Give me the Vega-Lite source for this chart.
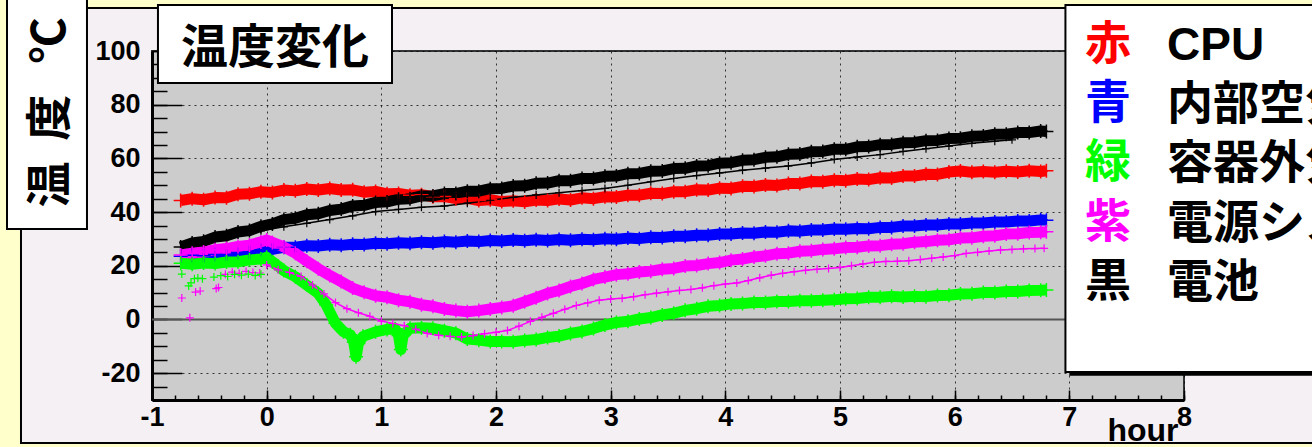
{
 "$schema": "https://vega.github.io/schema/vega-lite/v6.json",
 "width": 1032, "height": 349,
 "autosize": {"type": "none"},
 "padding": {"left": 152, "top": 51, "right": 128, "bottom": 47},
 "background": "#f4f0f4",
 "config": {"view": {"fill": "#cccccc", "stroke": "#333333", "strokeWidth": 2}, "font": "Liberation Sans"},
 "datasets": {
  "main": [
   {"t":-0.75,"v":44.3,"s":"CPU"},{"t":-0.65,"v":45.0,"s":"CPU"},{"t":-0.55,"v":44.6,"s":"CPU"},{"t":-0.45,"v":45.4,"s":"CPU"},{"t":-0.35,"v":45.3,"s":"CPU"},{"t":-0.25,"v":46.6,"s":"CPU"},{"t":-0.15,"v":46.8,"s":"CPU"},{"t":-0.05,"v":47.6,"s":"CPU"},{"t":0.05,"v":47.3,"s":"CPU"},{"t":0.15,"v":48.2,"s":"CPU"},{"t":0.25,"v":47.9,"s":"CPU"},{"t":0.35,"v":48.6,"s":"CPU"},{"t":0.45,"v":48.2,"s":"CPU"},{"t":0.55,"v":48.8,"s":"CPU"},{"t":0.65,"v":48.2,"s":"CPU"},{"t":0.75,"v":48.3,"s":"CPU"},{"t":0.85,"v":47.4,"s":"CPU"},{"t":0.95,"v":47.7,"s":"CPU"},{"t":1.05,"v":46.8,"s":"CPU"},{"t":1.15,"v":46.9,"s":"CPU"},{"t":1.25,"v":46.3,"s":"CPU"},{"t":1.35,"v":46.5,"s":"CPU"},{"t":1.45,"v":45.7,"s":"CPU"},{"t":1.55,"v":45.8,"s":"CPU"},{"t":1.65,"v":45.0,"s":"CPU"},{"t":1.75,"v":45.1,"s":"CPU"},{"t":1.85,"v":44.3,"s":"CPU"},{"t":1.95,"v":44.6,"s":"CPU"},{"t":2.05,"v":43.9,"s":"CPU"},{"t":2.15,"v":44.2,"s":"CPU"},{"t":2.25,"v":43.8,"s":"CPU"},{"t":2.35,"v":44.5,"s":"CPU"},{"t":2.45,"v":44.3,"s":"CPU"},{"t":2.55,"v":44.9,"s":"CPU"},{"t":2.65,"v":44.5,"s":"CPU"},{"t":2.75,"v":45.3,"s":"CPU"},{"t":2.85,"v":45.0,"s":"CPU"},{"t":2.95,"v":45.7,"s":"CPU"},{"t":3.05,"v":45.6,"s":"CPU"},{"t":3.15,"v":46.3,"s":"CPU"},{"t":3.25,"v":46.3,"s":"CPU"},{"t":3.35,"v":47.0,"s":"CPU"},{"t":3.45,"v":46.9,"s":"CPU"},{"t":3.55,"v":47.6,"s":"CPU"},{"t":3.65,"v":47.6,"s":"CPU"},{"t":3.75,"v":48.3,"s":"CPU"},{"t":3.85,"v":48.2,"s":"CPU"},{"t":3.95,"v":48.9,"s":"CPU"},{"t":4.05,"v":48.8,"s":"CPU"},{"t":4.15,"v":49.6,"s":"CPU"},{"t":4.25,"v":49.5,"s":"CPU"},{"t":4.35,"v":50.1,"s":"CPU"},{"t":4.45,"v":49.9,"s":"CPU"},{"t":4.55,"v":50.6,"s":"CPU"},{"t":4.65,"v":50.6,"s":"CPU"},{"t":4.75,"v":51.4,"s":"CPU"},{"t":4.85,"v":51.3,"s":"CPU"},{"t":4.95,"v":51.9,"s":"CPU"},{"t":5.05,"v":51.7,"s":"CPU"},{"t":5.15,"v":52.3,"s":"CPU"},{"t":5.25,"v":52.1,"s":"CPU"},{"t":5.35,"v":52.8,"s":"CPU"},{"t":5.45,"v":52.7,"s":"CPU"},{"t":5.55,"v":53.4,"s":"CPU"},{"t":5.65,"v":53.4,"s":"CPU"},{"t":5.75,"v":54.1,"s":"CPU"},{"t":5.85,"v":54.0,"s":"CPU"},{"t":5.95,"v":54.9,"s":"CPU"},{"t":6.05,"v":55.3,"s":"CPU"},{"t":6.15,"v":54.8,"s":"CPU"},{"t":6.25,"v":55.1,"s":"CPU"},{"t":6.35,"v":54.8,"s":"CPU"},{"t":6.45,"v":55.2,"s":"CPU"},{"t":6.55,"v":54.9,"s":"CPU"},{"t":6.65,"v":55.4,"s":"CPU"},{"t":6.75,"v":55.1,"s":"CPU"},{"t":6.8,"v":55.4,"s":"CPU"},

   {"t":-0.75,"v":27.0,"s":"電池"},{"t":-0.65,"v":28.5,"s":"電池"},{"t":-0.55,"v":29.1,"s":"電池"},{"t":-0.45,"v":30.7,"s":"電池"},{"t":-0.35,"v":31.2,"s":"電池"},{"t":-0.25,"v":32.6,"s":"電池"},{"t":-0.15,"v":33.1,"s":"電池"},{"t":-0.05,"v":34.7,"s":"電池"},{"t":0.05,"v":35.6,"s":"電池"},{"t":0.15,"v":37.2,"s":"電池"},{"t":0.25,"v":37.7,"s":"電池"},{"t":0.35,"v":39.0,"s":"電池"},{"t":0.45,"v":39.4,"s":"電池"},{"t":0.55,"v":40.6,"s":"電池"},{"t":0.65,"v":41.1,"s":"電池"},{"t":0.75,"v":42.3,"s":"電池"},{"t":0.85,"v":42.5,"s":"電池"},{"t":0.95,"v":43.6,"s":"電池"},{"t":1.05,"v":43.8,"s":"電池"},{"t":1.15,"v":44.8,"s":"電池"},{"t":1.25,"v":45.0,"s":"電池"},{"t":1.35,"v":46.0,"s":"電池"},{"t":1.45,"v":46.0,"s":"電池"},{"t":1.55,"v":46.9,"s":"電池"},{"t":1.65,"v":46.9,"s":"電池"},{"t":1.75,"v":47.8,"s":"電池"},{"t":1.85,"v":47.8,"s":"電池"},{"t":1.95,"v":48.7,"s":"電池"},{"t":2.05,"v":48.8,"s":"電池"},{"t":2.15,"v":49.7,"s":"電池"},{"t":2.25,"v":49.8,"s":"電池"},{"t":2.35,"v":50.7,"s":"電池"},{"t":2.45,"v":50.8,"s":"電池"},{"t":2.55,"v":51.7,"s":"電池"},{"t":2.65,"v":51.7,"s":"電池"},{"t":2.75,"v":52.5,"s":"電池"},{"t":2.85,"v":52.5,"s":"電池"},{"t":2.95,"v":53.3,"s":"電池"},{"t":3.05,"v":53.4,"s":"電池"},{"t":3.15,"v":54.3,"s":"電池"},{"t":3.25,"v":54.4,"s":"電池"},{"t":3.35,"v":55.2,"s":"電池"},{"t":3.45,"v":55.3,"s":"電池"},{"t":3.55,"v":56.2,"s":"電池"},{"t":3.65,"v":56.3,"s":"電池"},{"t":3.75,"v":57.2,"s":"電池"},{"t":3.85,"v":57.3,"s":"電池"},{"t":3.95,"v":58.2,"s":"電池"},{"t":4.05,"v":58.4,"s":"電池"},{"t":4.15,"v":59.3,"s":"電池"},{"t":4.25,"v":59.5,"s":"電池"},{"t":4.35,"v":60.4,"s":"電池"},{"t":4.45,"v":60.6,"s":"電池"},{"t":4.55,"v":61.5,"s":"電池"},{"t":4.65,"v":61.6,"s":"電池"},{"t":4.75,"v":62.5,"s":"電池"},{"t":4.85,"v":62.6,"s":"電池"},{"t":4.95,"v":63.4,"s":"電池"},{"t":5.05,"v":63.4,"s":"電池"},{"t":5.15,"v":64.3,"s":"電池"},{"t":5.25,"v":64.4,"s":"電池"},{"t":5.35,"v":65.1,"s":"電池"},{"t":5.45,"v":65.2,"s":"電池"},{"t":5.55,"v":65.8,"s":"電池"},{"t":5.65,"v":65.9,"s":"電池"},{"t":5.75,"v":66.6,"s":"電池"},{"t":5.85,"v":66.7,"s":"電池"},{"t":5.95,"v":67.4,"s":"電池"},{"t":6.05,"v":67.5,"s":"電池"},{"t":6.15,"v":68.2,"s":"電池"},{"t":6.25,"v":68.3,"s":"電池"},{"t":6.35,"v":69.0,"s":"電池"},{"t":6.45,"v":69.0,"s":"電池"},{"t":6.55,"v":69.6,"s":"電池"},{"t":6.65,"v":69.6,"s":"電池"},{"t":6.75,"v":70.2,"s":"電池"},{"t":6.8,"v":70.0,"s":"電池"},

   {"t":-0.75,"v":23.5,"s":"内部空気"},{"t":-0.65,"v":23.9,"s":"内部空気"},{"t":-0.55,"v":23.7,"s":"内部空気"},{"t":-0.45,"v":24.2,"s":"内部空気"},{"t":-0.35,"v":24.2,"s":"内部空気"},{"t":-0.25,"v":24.9,"s":"内部空気"},{"t":-0.15,"v":25.1,"s":"内部空気"},{"t":-0.05,"v":25.8,"s":"内部空気"},{"t":0.05,"v":26.1,"s":"内部空気"},{"t":0.15,"v":26.9,"s":"内部空気"},{"t":0.25,"v":26.9,"s":"内部空気"},{"t":0.35,"v":27.5,"s":"内部空気"},{"t":0.45,"v":27.4,"s":"内部空気"},{"t":0.55,"v":27.8,"s":"内部空気"},{"t":0.65,"v":27.6,"s":"内部空気"},{"t":0.75,"v":28.0,"s":"内部空気"},{"t":0.85,"v":27.9,"s":"内部空気"},{"t":0.95,"v":28.4,"s":"内部空気"},{"t":1.05,"v":28.2,"s":"内部空気"},{"t":1.15,"v":28.6,"s":"内部空気"},{"t":1.25,"v":28.4,"s":"内部空気"},{"t":1.35,"v":28.8,"s":"内部空気"},{"t":1.45,"v":28.6,"s":"内部空気"},{"t":1.55,"v":29.0,"s":"内部空気"},{"t":1.65,"v":28.8,"s":"内部空気"},{"t":1.75,"v":29.2,"s":"内部空気"},{"t":1.85,"v":29.0,"s":"内部空気"},{"t":1.95,"v":29.4,"s":"内部空気"},{"t":2.05,"v":29.2,"s":"内部空気"},{"t":2.15,"v":29.6,"s":"内部空気"},{"t":2.25,"v":29.3,"s":"内部空気"},{"t":2.35,"v":29.7,"s":"内部空気"},{"t":2.45,"v":29.4,"s":"内部空気"},{"t":2.55,"v":29.8,"s":"内部空気"},{"t":2.65,"v":29.5,"s":"内部空気"},{"t":2.75,"v":29.9,"s":"内部空気"},{"t":2.85,"v":29.7,"s":"内部空気"},{"t":2.95,"v":30.1,"s":"内部空気"},{"t":3.05,"v":29.9,"s":"内部空気"},{"t":3.15,"v":30.3,"s":"内部空気"},{"t":3.25,"v":30.1,"s":"内部空気"},{"t":3.35,"v":30.6,"s":"内部空気"},{"t":3.45,"v":30.5,"s":"内部空気"},{"t":3.55,"v":31.0,"s":"内部空気"},{"t":3.65,"v":31.0,"s":"内部空気"},{"t":3.75,"v":31.4,"s":"内部空気"},{"t":3.85,"v":31.4,"s":"内部空気"},{"t":3.95,"v":31.8,"s":"内部空気"},{"t":4.05,"v":31.8,"s":"内部空気"},{"t":4.15,"v":32.2,"s":"内部空気"},{"t":4.25,"v":32.1,"s":"内部空気"},{"t":4.35,"v":32.6,"s":"内部空気"},{"t":4.45,"v":32.5,"s":"内部空気"},{"t":4.55,"v":33.0,"s":"内部空気"},{"t":4.65,"v":32.9,"s":"内部空気"},{"t":4.75,"v":33.3,"s":"内部空気"},{"t":4.85,"v":33.3,"s":"内部空気"},{"t":4.95,"v":33.7,"s":"内部空気"},{"t":5.05,"v":33.6,"s":"内部空気"},{"t":5.15,"v":33.9,"s":"内部空気"},{"t":5.25,"v":33.8,"s":"内部空気"},{"t":5.35,"v":34.3,"s":"内部空気"},{"t":5.45,"v":34.3,"s":"内部空気"},{"t":5.55,"v":34.8,"s":"内部空気"},{"t":5.65,"v":34.8,"s":"内部空気"},{"t":5.75,"v":35.2,"s":"内部空気"},{"t":5.85,"v":35.2,"s":"内部空気"},{"t":5.95,"v":35.6,"s":"内部空気"},{"t":6.05,"v":35.6,"s":"内部空気"},{"t":6.15,"v":35.9,"s":"内部空気"},{"t":6.25,"v":35.9,"s":"内部空気"},{"t":6.35,"v":36.3,"s":"内部空気"},{"t":6.45,"v":36.3,"s":"内部空気"},{"t":6.55,"v":36.7,"s":"内部空気"},{"t":6.65,"v":36.7,"s":"内部空気"},{"t":6.75,"v":37.1,"s":"内部空気"},{"t":6.8,"v":37.0,"s":"内部空気"},

   {"t":-0.75,"v":24.0,"s":"電源システム"},{"t":-0.65,"v":24.7,"s":"電源システム"},{"t":-0.55,"v":25.1,"s":"電源システム"},{"t":-0.45,"v":26.0,"s":"電源システム"},{"t":-0.35,"v":26.4,"s":"電源システム"},{"t":-0.25,"v":27.2,"s":"電源システム"},{"t":-0.15,"v":27.7,"s":"電源システム"},{"t":-0.05,"v":28.9,"s":"電源システム"},{"t":0,"v":29.6,"s":"電源システム"},{"t":0.05,"v":28.7,"s":"電源システム"},{"t":0.15,"v":27.0,"s":"電源システム"},{"t":0.25,"v":24.7,"s":"電源システム"},{"t":0.35,"v":21.7,"s":"電源システム"},{"t":0.45,"v":18.9,"s":"電源システム"},{"t":0.55,"v":16.4,"s":"電源システム"},{"t":0.65,"v":14.1,"s":"電源システム"},{"t":0.75,"v":11.7,"s":"電源システム"},{"t":0.85,"v":10.1,"s":"電源システム"},{"t":0.95,"v":8.8,"s":"電源システム"},{"t":1.05,"v":8.3,"s":"電源システム"},{"t":1.15,"v":7.2,"s":"電源システム"},{"t":1.25,"v":6.6,"s":"電源システム"},{"t":1.35,"v":5.5,"s":"電源システム"},{"t":1.45,"v":4.9,"s":"電源システム"},{"t":1.55,"v":3.9,"s":"電源システム"},{"t":1.65,"v":3.3,"s":"電源システム"},{"t":1.75,"v":2.9,"s":"電源システム"},{"t":1.85,"v":3.3,"s":"電源システム"},{"t":1.95,"v":3.9,"s":"電源システム"},{"t":2.05,"v":4.5,"s":"電源システム"},{"t":2.15,"v":5.1,"s":"電源システム"},{"t":2.25,"v":6.6,"s":"電源システム"},{"t":2.35,"v":8.1,"s":"電源システム"},{"t":2.45,"v":9.7,"s":"電源システム"},{"t":2.55,"v":10.8,"s":"電源システム"},{"t":2.65,"v":12.3,"s":"電源システム"},{"t":2.75,"v":13.4,"s":"電源システム"},{"t":2.85,"v":14.9,"s":"電源システム"},{"t":2.95,"v":15.8,"s":"電源システム"},{"t":3.05,"v":16.7,"s":"電源システム"},{"t":3.15,"v":17.0,"s":"電源システム"},{"t":3.25,"v":17.7,"s":"電源システム"},{"t":3.35,"v":18.0,"s":"電源システム"},{"t":3.45,"v":18.7,"s":"電源システム"},{"t":3.55,"v":19.0,"s":"電源システム"},{"t":3.65,"v":19.9,"s":"電源システム"},{"t":3.75,"v":20.1,"s":"電源システム"},{"t":3.85,"v":20.8,"s":"電源システム"},{"t":3.95,"v":21.2,"s":"電源システム"},{"t":4.05,"v":22.1,"s":"電源システム"},{"t":4.15,"v":22.5,"s":"電源システム"},{"t":4.25,"v":23.3,"s":"電源システム"},{"t":4.35,"v":23.7,"s":"電源システム"},{"t":4.45,"v":24.5,"s":"電源システム"},{"t":4.55,"v":24.7,"s":"電源システム"},{"t":4.65,"v":25.4,"s":"電源システム"},{"t":4.75,"v":25.6,"s":"電源システム"},{"t":4.85,"v":26.1,"s":"電源システム"},{"t":4.95,"v":26.3,"s":"電源システム"},{"t":5.05,"v":26.8,"s":"電源システム"},{"t":5.15,"v":26.9,"s":"電源システム"},{"t":5.25,"v":27.4,"s":"電源システム"},{"t":5.35,"v":27.5,"s":"電源システム"},{"t":5.45,"v":28.0,"s":"電源システム"},{"t":5.55,"v":28.2,"s":"電源システム"},{"t":5.65,"v":28.8,"s":"電源システム"},{"t":5.75,"v":29.0,"s":"電源システム"},{"t":5.85,"v":29.5,"s":"電源システム"},{"t":5.95,"v":29.7,"s":"電源システム"},{"t":6.05,"v":30.3,"s":"電源システム"},{"t":6.15,"v":30.4,"s":"電源システム"},{"t":6.25,"v":31.0,"s":"電源システム"},{"t":6.35,"v":31.2,"s":"電源システム"},{"t":6.45,"v":31.8,"s":"電源システム"},{"t":6.55,"v":31.9,"s":"電源システム"},{"t":6.65,"v":32.4,"s":"電源システム"},{"t":6.75,"v":32.5,"s":"電源システム"},{"t":6.8,"v":32.7,"s":"電源システム"},

   {"t":-0.75,"v":20.9,"s":"容器外気"},{"t":-0.65,"v":20.6,"s":"容器外気"},{"t":-0.55,"v":21.0,"s":"容器外気"},{"t":-0.45,"v":20.8,"s":"容器外気"},{"t":-0.35,"v":21.4,"s":"容器外気"},{"t":-0.25,"v":21.5,"s":"容器外気"},{"t":-0.15,"v":22.2,"s":"容器外気"},{"t":-0.05,"v":22.5,"s":"容器外気"},{"t":0,"v":23.2,"s":"容器外気"},{"t":0.05,"v":21.5,"s":"容器外気"},{"t":0.1,"v":19.9,"s":"容器外気"},{"t":0.15,"v":18.2,"s":"容器外気"},{"t":0.25,"v":15.9,"s":"容器外気"},{"t":0.35,"v":12.8,"s":"容器外気"},{"t":0.45,"v":9.7,"s":"容器外気"},{"t":0.52,"v":5.4,"s":"容器外気"},{"t":0.6,"v":-1.4,"s":"容器外気"},{"t":0.67,"v":-4.6,"s":"容器外気"},{"t":0.73,"v":-5.7,"s":"容器外気"},{"t":0.76,"v":-8.5,"s":"容器外気"},{"t":0.78,"v":-13.9,"s":"容器外気"},{"t":0.8,"v":-9.0,"s":"容器外気"},{"t":0.84,"v":-6.3,"s":"容器外気"},{"t":0.95,"v":-4.6,"s":"容器外気"},{"t":1.05,"v":-3.7,"s":"容器外気"},{"t":1.12,"v":-3.5,"s":"容器外気"},{"t":1.15,"v":-6.0,"s":"容器外気"},{"t":1.17,"v":-11.2,"s":"容器外気"},{"t":1.19,"v":-6.0,"s":"容器外気"},{"t":1.25,"v":-3.3,"s":"容器外気"},{"t":1.35,"v":-3.1,"s":"容器外気"},{"t":1.45,"v":-3.3,"s":"容器外気"},{"t":1.55,"v":-4.2,"s":"容器外気"},{"t":1.65,"v":-5.1,"s":"容器外気"},{"t":1.75,"v":-7.3,"s":"容器外気"},{"t":1.85,"v":-7.7,"s":"容器外気"},{"t":1.95,"v":-8.2,"s":"容器外気"},{"t":2.05,"v":-8.2,"s":"容器外気"},{"t":2.15,"v":-8.3,"s":"容器外気"},{"t":2.25,"v":-7.8,"s":"容器外気"},{"t":2.35,"v":-7.5,"s":"容器外気"},{"t":2.45,"v":-6.7,"s":"容器外気"},{"t":2.55,"v":-6.2,"s":"容器外気"},{"t":2.65,"v":-5.2,"s":"容器外気"},{"t":2.75,"v":-4.5,"s":"容器外気"},{"t":2.85,"v":-3.4,"s":"容器外気"},{"t":2.95,"v":-2.1,"s":"容器外気"},{"t":3.05,"v":-1.1,"s":"容器外気"},{"t":3.15,"v":-0.7,"s":"容器外気"},{"t":3.25,"v":0.2,"s":"容器外気"},{"t":3.35,"v":0.7,"s":"容器外気"},{"t":3.45,"v":1.7,"s":"容器外気"},{"t":3.55,"v":2.3,"s":"容器外気"},{"t":3.65,"v":3.4,"s":"容器外気"},{"t":3.75,"v":4.0,"s":"容器外気"},{"t":3.85,"v":4.9,"s":"容器外気"},{"t":3.95,"v":5.2,"s":"容器外気"},{"t":4.05,"v":5.8,"s":"容器外気"},{"t":4.15,"v":5.9,"s":"容器外気"},{"t":4.25,"v":6.3,"s":"容器外気"},{"t":4.35,"v":6.3,"s":"容器外気"},{"t":4.45,"v":6.7,"s":"容器外気"},{"t":4.55,"v":6.7,"s":"容器外気"},{"t":4.65,"v":7.0,"s":"容器外気"},{"t":4.75,"v":7.0,"s":"容器外気"},{"t":4.85,"v":7.2,"s":"容器外気"},{"t":4.95,"v":7.3,"s":"容器外気"},{"t":5.05,"v":7.7,"s":"容器外気"},{"t":5.15,"v":7.8,"s":"容器外気"},{"t":5.25,"v":8.3,"s":"容器外気"},{"t":5.35,"v":8.3,"s":"容器外気"},{"t":5.45,"v":8.6,"s":"容器外気"},{"t":5.55,"v":8.4,"s":"容器外気"},{"t":5.65,"v":8.6,"s":"容器外気"},{"t":5.75,"v":8.5,"s":"容器外気"},{"t":5.85,"v":8.9,"s":"容器外気"},{"t":5.95,"v":9.0,"s":"容器外気"},{"t":6.05,"v":9.5,"s":"容器外気"},{"t":6.15,"v":9.6,"s":"容器外気"},{"t":6.25,"v":10.0,"s":"容器外気"},{"t":6.35,"v":10.0,"s":"容器外気"},{"t":6.45,"v":10.4,"s":"容器外気"},{"t":6.55,"v":10.4,"s":"容器外気"},{"t":6.65,"v":10.8,"s":"容器外気"},{"t":6.75,"v":10.9,"s":"容器外気"},{"t":6.8,"v":11.0,"s":"容器外気"}
  ],
  "sub": [
   {"t":-0.05,"v":33.0,"s":"電池"},{"t":0.15,"v":34.5,"s":"電池"},{"t":0.35,"v":35.8,"s":"電池"},{"t":0.55,"v":37.2,"s":"電池"},{"t":0.75,"v":38.6,"s":"電池"},{"t":0.95,"v":40.2,"s":"電池"},{"t":1.15,"v":41.0,"s":"電池"},{"t":1.35,"v":41.8,"s":"電池"},{"t":1.55,"v":42.3,"s":"電池"},{"t":1.75,"v":43.3,"s":"電池"},{"t":1.95,"v":44.4,"s":"電池"},{"t":2.15,"v":45.5,"s":"電池"},{"t":2.35,"v":46.4,"s":"電池"},{"t":2.55,"v":47.2,"s":"電池"},{"t":2.75,"v":48.0,"s":"電池"},{"t":2.95,"v":48.8,"s":"電池"},{"t":3.15,"v":50.0,"s":"電池"},{"t":3.35,"v":51.3,"s":"電池"},{"t":3.55,"v":52.5,"s":"電池"},{"t":3.75,"v":53.6,"s":"電池"},{"t":3.95,"v":54.6,"s":"電池"},{"t":4.15,"v":55.6,"s":"電池"},{"t":4.35,"v":56.4,"s":"電池"},{"t":4.55,"v":57.2,"s":"電池"},{"t":4.75,"v":58.3,"s":"電池"},{"t":4.95,"v":59.6,"s":"電池"},{"t":5.15,"v":60.5,"s":"電池"},{"t":5.35,"v":61.4,"s":"電池"},{"t":5.55,"v":62.6,"s":"電池"},{"t":5.75,"v":63.6,"s":"電池"},{"t":5.95,"v":64.6,"s":"電池"},{"t":6.15,"v":65.6,"s":"電池"},{"t":6.35,"v":66.4,"s":"電池"},{"t":6.5,"v":66.9,"s":"電池"},
   {"t":0.0,"v":20.3,"s":"電源システム"},{"t":0.1,"v":18.5,"s":"電源システム"},{"t":0.2,"v":17.5,"s":"電源システム"},{"t":0.3,"v":16.0,"s":"電源システム"},{"t":0.4,"v":12.8,"s":"電源システム"},{"t":0.5,"v":9.5,"s":"電源システム"},{"t":0.6,"v":6.3,"s":"電源システム"},{"t":0.7,"v":4.0,"s":"電源システム"},{"t":0.8,"v":2.5,"s":"電源システム"},{"t":0.9,"v":1.2,"s":"電源システム"},{"t":1.0,"v":-0.6,"s":"電源システム"},{"t":1.1,"v":-1.5,"s":"電源システム"},{"t":1.2,"v":-2.3,"s":"電源システム"},{"t":1.3,"v":-3.6,"s":"電源システム"},{"t":1.4,"v":-5.2,"s":"電源システム"},{"t":1.5,"v":-5.9,"s":"電源システム"},{"t":1.6,"v":-6.3,"s":"電源システム"},{"t":1.7,"v":-6.5,"s":"電源システム"},{"t":1.8,"v":-6.0,"s":"電源システム"},{"t":1.9,"v":-5.3,"s":"電源システム"},{"t":2.0,"v":-4.8,"s":"電源システム"},{"t":2.1,"v":-4.1,"s":"電源システム"},{"t":2.2,"v":-2.5,"s":"電源システム"},{"t":2.3,"v":-0.7,"s":"電源システム"},{"t":2.4,"v":0.8,"s":"電源システム"},{"t":2.5,"v":2.3,"s":"電源システム"},{"t":2.6,"v":3.8,"s":"電源システム"},{"t":2.7,"v":5.2,"s":"電源システム"},{"t":2.8,"v":6.2,"s":"電源システム"},{"t":2.9,"v":7.2,"s":"電源システム"},{"t":3.0,"v":7.6,"s":"電源システム"},{"t":3.1,"v":7.9,"s":"電源システム"},{"t":3.2,"v":8.5,"s":"電源システム"},{"t":3.3,"v":9.2,"s":"電源システム"},{"t":3.4,"v":9.8,"s":"電源システム"},{"t":3.5,"v":10.3,"s":"電源システム"},{"t":3.6,"v":10.8,"s":"電源システム"},{"t":3.7,"v":11.2,"s":"電源システム"},{"t":3.8,"v":11.8,"s":"電源システム"},{"t":3.9,"v":12.6,"s":"電源システム"},{"t":4.0,"v":13.2,"s":"電源システム"},{"t":4.1,"v":13.6,"s":"電源システム"},{"t":4.2,"v":14.5,"s":"電源システム"},{"t":4.3,"v":15.5,"s":"電源システム"},{"t":4.4,"v":16.5,"s":"電源システム"},{"t":4.5,"v":17.2,"s":"電源システム"},{"t":4.6,"v":17.8,"s":"電源システム"},{"t":4.7,"v":18.3,"s":"電源システム"},{"t":4.8,"v":18.7,"s":"電源システム"},{"t":4.9,"v":19.0,"s":"電源システム"},{"t":5.0,"v":19.4,"s":"電源システム"},{"t":5.1,"v":20.0,"s":"電源システム"},{"t":5.2,"v":20.7,"s":"電源システム"},{"t":5.3,"v":21.3,"s":"電源システム"},{"t":5.4,"v":21.6,"s":"電源システム"},{"t":5.5,"v":21.7,"s":"電源システム"},{"t":5.6,"v":21.9,"s":"電源システム"},{"t":5.7,"v":22.3,"s":"電源システム"},{"t":5.8,"v":22.8,"s":"電源システム"},{"t":5.9,"v":23.3,"s":"電源システム"},{"t":6.0,"v":23.8,"s":"電源システム"},{"t":6.1,"v":24.6,"s":"電源システム"},{"t":6.2,"v":25.0,"s":"電源システム"},{"t":6.3,"v":25.5,"s":"電源システム"},{"t":6.4,"v":25.9,"s":"電源システム"},{"t":6.5,"v":26.1,"s":"電源システム"},{"t":6.6,"v":26.3,"s":"電源システム"},{"t":6.7,"v":26.4,"s":"電源システム"},{"t":6.78,"v":26.5,"s":"電源システム"}
  ],
  "scatter": [
   {"t":-0.74,"v":8.0,"s":"電源システム"},{"t":-0.67,"v":0.6,"s":"電源システム"},{"t":-0.62,"v":10.2,"s":"電源システム"},{"t":-0.58,"v":10.6,"s":"電源システム"},{"t":-0.44,"v":11.5,"s":"電源システム"},{"t":-0.42,"v":11.9,"s":"電源システム"},{"t":-0.36,"v":16.8,"s":"電源システム"},{"t":-0.3,"v":17.6,"s":"電源システム"},{"t":-0.24,"v":17.2,"s":"電源システム"},{"t":-0.18,"v":17.9,"s":"電源システム"},{"t":-0.12,"v":17.5,"s":"電源システム"},{"t":-0.06,"v":17.3,"s":"電源システム"},
   {"t":-0.74,"v":16.9,"s":"容器外気"},{"t":-0.68,"v":12.5,"s":"容器外気"},{"t":-0.66,"v":13.6,"s":"容器外気"},{"t":-0.63,"v":15.2,"s":"容器外気"},{"t":-0.6,"v":15.4,"s":"容器外気"},{"t":-0.56,"v":15.2,"s":"容器外気"},{"t":-0.46,"v":15.8,"s":"容器外気"},{"t":-0.4,"v":16.3,"s":"容器外気"},{"t":-0.34,"v":16.0,"s":"容器外気"},{"t":-0.28,"v":16.8,"s":"容器外気"},{"t":-0.22,"v":16.5,"s":"容器外気"},{"t":-0.16,"v":16.9,"s":"容器外気"},{"t":-0.1,"v":16.4,"s":"容器外気"},{"t":-0.05,"v":16.8,"s":"容器外気"}
  ]
 },
 "resolve": {"axis": {"x": "independent", "y": "independent"}, "scale": {"x": "shared", "y": "shared"}},
 "layer": [
  {
   "data": {"values": [{}]},
   "mark": {"type": "rect", "fill": "#ffffcc"},
   "encoding": {
    "x": {"datum": -2.34, "type": "quantitative", "scale": {"domain": [-1, 8], "nice": false, "zero": false}, "axis": null},
    "x2": {"datum": 9.2},
    "y": {"datum": 119.2, "type": "quantitative", "scale": {"domain": [-30, 100], "nice": false, "zero": false}, "axis": null},
    "y2": {"datum": 116.0}
   }
  },
  {
   "data": {"values": [{}]},
   "mark": {"type": "rect", "fill": "#ffffcc"},
   "encoding": {
    "x": {"datum": -2.34, "type": "quantitative", "scale": {"domain": [-1, 8], "nice": false, "zero": false}, "axis": null},
    "x2": {"datum": -2.1425},
    "y": {"datum": 119.2, "type": "quantitative", "scale": {"domain": [-30, 100], "nice": false, "zero": false}, "axis": null},
    "y2": {"datum": -47.7}
   }
  },
  {
   "data": {"values": [{}]},
   "mark": {"type": "rect", "fill": "#ffffcc"},
   "encoding": {
    "x": {"datum": -2.34, "type": "quantitative", "scale": {"domain": [-1, 8], "nice": false, "zero": false}, "axis": null},
    "x2": {"datum": 9.2},
    "y": {"datum": -46.0, "type": "quantitative", "scale": {"domain": [-30, 100], "nice": false, "zero": false}, "axis": null},
    "y2": {"datum": -47.7}
   }
  },
  {
   "data": {"values": [{}]},
   "mark": {"type": "rect", "fill": "#f4f0f4", "fillOpacity": 0, "stroke": "#000000", "strokeWidth": 2},
   "encoding": {
    "x": {"datum": -2.1425, "type": "quantitative", "scale": {"domain": [-1, 8], "nice": false, "zero": false}, "axis": null},
    "x2": {"datum": 9.3},
    "y": {"datum": 116.0, "type": "quantitative", "scale": {"domain": [-30, 100], "nice": false, "zero": false}, "axis": null},
    "y2": {"datum": -46.0}
   }
  },
  {
   "data": {"values": [{}]},
   "mark": {"type": "rect", "fill": "#ffffff", "stroke": "#000000", "strokeWidth": 2},
   "encoding": {
    "x": {"datum": -2.2645, "type": "quantitative", "scale": {"domain": [-1, 8], "nice": false, "zero": false},
     "axis": {"orient": "bottom", "values": [-1,-0.8,-0.6,-0.4,-0.2,0,0.2,0.4,0.6,0.8,1,1.2,1.4,1.6,1.8,2,2.2,2.4,2.6,2.8,3,3.2,3.4,3.6,3.8,4,4.2,4.4,4.6,4.8,5,5.2,5.4,5.6,5.8,6,6.2,6.4,6.6,6.8,7,7.2,7.4,7.6,7.8,8], "ticks": true, "tickSize": -5, "tickWidth": 1.5, "tickColor": "#000000", "labels": false, "domain": false, "grid": false, "title": null, "zindex": 0}},
    "x2": {"datum": -1.567},
    "y": {"datum": 120, "type": "quantitative", "scale": {"domain": [-30, 100], "nice": false, "zero": false},
     "axis": {"orient": "left", "values": [-30,-25,-20,-15,-10,-5,0,5,10,15,20,25,30,35,40,45,50,55,60,65,70,75,80,85,90,95,100], "ticks": true, "tickSize": -15, "tickWidth": 1.5, "tickColor": "#000000", "labels": false, "domain": false, "grid": false, "title": null, "zindex": 0}},
    "y2": {"datum": 33.7}
   }
  },
  {
   "data": {"values": [{}]},
   "mark": {"type": "rect", "fill": "#ffffff", "stroke": "#000000", "strokeWidth": 2},
   "encoding": {
    "x": {"datum": -0.948, "type": "quantitative", "scale": {"domain": [-1, 8], "nice": false, "zero": false}, "axis": null},
    "x2": {"datum": 1.093},
    "y": {"datum": 117.13, "type": "quantitative", "scale": {"domain": [-30, 100], "nice": false, "zero": false}, "axis": null},
    "y2": {"datum": 88.08}
   }
  },
  {
   "data": {"values": [{}]},
   "mark": {"type": "text", "text": "温度変化", "font": "Noto Sans CJK JP", "fontSize": 47, "fontWeight": "bold", "align": "center", "baseline": "middle", "color": "#000000"},
   "encoding": {
    "x": {"datum": 0.0727, "type": "quantitative", "scale": {"domain": [-1, 8], "nice": false, "zero": false}, "axis": null},
    "y": {"datum": 100.74, "type": "quantitative", "scale": {"domain": [-30, 100], "nice": false, "zero": false},
     "axis": {"orient": "left", "ticks": false, "labels": false, "domain": false, "grid": false, "title": "温\u00a0\u00a0度\u00a0\u00a0\u00a0℃", "titleFont": "Noto Sans CJK JP", "titleFontSize": 46, "titleFontWeight": "bold", "titleColor": "#000000", "titleAngle": 270, "titleAlign": "center", "titleBaseline": "middle", "titleX": -102, "titleY": 61, "zindex": 1}}
   }
  },
  {
   "data": {"values": [{}]},
   "mark": {"type": "rule", "color": "#555555", "strokeWidth": 2},
   "encoding": {
    "y": {"datum": 0, "type": "quantitative", "scale": {"domain": [-30, 100], "nice": false, "zero": false}, "axis": null}
   }
  },
  {
   "data": {"name": "main"},
   "mark": {"type": "line", "strokeWidth": 11, "strokeJoin": "round"},
   "encoding": {
    "x": {"field": "t", "type": "quantitative", "scale": {"domain": [-1, 8], "nice": false, "zero": false},
     "axis": {"orient": "bottom", "values": [-1,0,1,2,3,4,5,6,7,8], "labelExpr": "'' + datum.value", "labelFont": "Liberation Sans", "labelFontSize": 27, "labelFontWeight": "bold", "labelColor": "#000000", "labelPadding": 14, "labelFlush": false, "labelOverlap": false, "ticks": true, "tickSize": -10, "tickWidth": 1.5, "tickColor": "#000000", "domain": true, "domainWidth": 3, "domainColor": "#000000", "grid": true, "gridColor": "#000000", "gridOpacity": 0.75, "gridDash": [2, 4], "gridWidth": 1, "title": "hour", "titleFont": "Liberation Sans", "titleFontSize": 32, "titleFontWeight": "bold", "titleColor": "#000000", "titleX": 1026, "titleY": 40, "titleAlign": "right", "titleBaseline": "alphabetic", "zindex": 0}},
    "y": {"field": "v", "type": "quantitative", "scale": {"domain": [-30, 100], "nice": false, "zero": false},
     "axis": {"orient": "left", "values": [-20,0,20,40,60,80,100], "labelExpr": "'' + datum.value", "labelFont": "Liberation Sans", "labelFontSize": 27, "labelFontWeight": "bold", "labelColor": "#000000", "labelPadding": 42, "labelFlush": false, "labelOverlap": false, "ticks": true, "tickSize": -30, "tickWidth": 1.5, "tickColor": "#000000", "domain": true, "domainWidth": 3, "domainColor": "#000000", "grid": true, "gridColor": "#000000", "gridOpacity": 0.75, "gridDash": [2, 4], "gridWidth": 1, "title": null, "zindex": 0}},
    "color": {"field": "s", "type": "nominal", "scale": {"domain": ["CPU", "内部空気", "容器外気", "電源システム", "電池"], "range": ["#ff0000", "#0000ff", "#00ff00", "#ff00ff", "#000000"]},
     "legend": {"orient": "none", "legendX": 887, "legendY": -29, "title": null, "direction": "vertical", "symbolSize": 0, "symbolOpacity": 0, "symbolStrokeWidth": 0, "labelOffset": 0, "labelFont": "Noto Sans CJK JP", "labelFontSize": 46, "labelFontWeight": "bold", "labelLimit": 0, "rowPadding": 13.2, "padding": 0, "zindex": 2,
      "encode": {"labels": {"update": {"fill": {"scale": "color", "field": "value"}, "text": {"signal": "datum.label=='CPU'?'赤':datum.label=='内部空気'?'青':datum.label=='容器外気'?'緑':datum.label=='電源システム'?'紫':'黒'"}}}}}}
   }
  },
  {
   "data": {"name": "sub"},
   "mark": {"type": "line", "strokeWidth": 1.5},
   "encoding": {
    "x": {"field": "t", "type": "quantitative", "scale": {"domain": [-1, 8], "nice": false, "zero": false}, "axis": null},
    "y": {"field": "v", "type": "quantitative", "scale": {"domain": [-30, 100], "nice": false, "zero": false}, "axis": null},
    "color": {"field": "s", "type": "nominal"}
   }
  },
  {
   "data": {"name": "main"},
   "mark": {"type": "point", "filled": false, "size": 196, "strokeWidth": 1.5, "opacity": 1},
   "encoding": {
    "x": {"field": "t", "type": "quantitative", "scale": {"domain": [-1, 8], "nice": false, "zero": false}, "axis": null},
    "y": {"field": "v", "type": "quantitative", "scale": {"domain": [-30, 100], "nice": false, "zero": false}, "axis": null},
    "color": {"field": "s", "type": "nominal"},
    "shape": {"field": "s", "type": "nominal",
     "scale": {"domain": ["CPU", "内部空気", "容器外気", "電源システム", "電池", "_"], "range": ["M-1,0L1,0M0,-1L0,1", "M-1,0L1,0M0,-1L0,1", "M-1,0L1,0M0,-1L0,1", "M-1,0L1,0M0,-1L0,1", "M-1,0L1,0M0,-1L0,1", "M-1,0L1,0M0,-1L0,1"]},
     "legend": {"orient": "none", "legendX": 913, "legendY": -43, "title": null, "direction": "vertical", "symbolSize": 0, "symbolOpacity": 0, "symbolStrokeWidth": 0, "labelOffset": 41, "labelFont": "Liberation Sans, Noto Sans CJK JP", "labelFontSize": 46, "labelFontWeight": "bold", "labelColor": "#000000", "labelLimit": 0, "rowPadding": 13.2, "padding": 15, "zindex": 1,
      "labelExpr": "datum.label=='_'?'':datum.label"}}
   }
  },
  {
   "data": {"name": "sub"},
   "mark": {"type": "point", "filled": false, "size": 64, "strokeWidth": 1.2, "opacity": 1, "shape": "M-1,0L1,0M0,-1L0,1"},
   "encoding": {
    "x": {"field": "t", "type": "quantitative", "scale": {"domain": [-1, 8], "nice": false, "zero": false}, "axis": null},
    "y": {"field": "v", "type": "quantitative", "scale": {"domain": [-30, 100], "nice": false, "zero": false}, "axis": null},
    "color": {"field": "s", "type": "nominal"}
   }
  },
  {
   "data": {"name": "scatter"},
   "mark": {"type": "point", "filled": false, "size": 64, "strokeWidth": 1.2, "opacity": 1, "shape": "M-1,0L1,0M0,-1L0,1"},
   "encoding": {
    "x": {"field": "t", "type": "quantitative", "scale": {"domain": [-1, 8], "nice": false, "zero": false}, "axis": null},
    "y": {"field": "v", "type": "quantitative", "scale": {"domain": [-30, 100], "nice": false, "zero": false}, "axis": null},
    "color": {"field": "s", "type": "nominal"}
   }
  },
  {
   "data": {"values": [{}]},
   "mark": {"type": "rect", "fill": "#000000"},
   "encoding": {
    "x": {"datum": 7.0, "type": "quantitative", "scale": {"domain": [-1, 8], "nice": false, "zero": false}, "axis": null},
    "x2": {"datum": 9.6},
    "y": {"datum": 117.1, "type": "quantitative", "scale": {"domain": [-30, 100], "nice": false, "zero": false}, "axis": null},
    "y2": {"datum": -21.0}
   }
  },
  {
   "data": {"values": [{}]},
   "mark": {"type": "rect", "fill": "#ffffff", "stroke": "#000000", "strokeWidth": 2},
   "encoding": {
    "x": {"datum": 6.966, "type": "quantitative", "scale": {"domain": [-1, 8], "nice": false, "zero": false}, "axis": null},
    "x2": {"datum": 9.6},
    "y": {"datum": 117.1, "type": "quantitative", "scale": {"domain": [-30, 100], "nice": false, "zero": false}, "axis": null},
    "y2": {"datum": -19.6}
   }
  }
 ]
}
